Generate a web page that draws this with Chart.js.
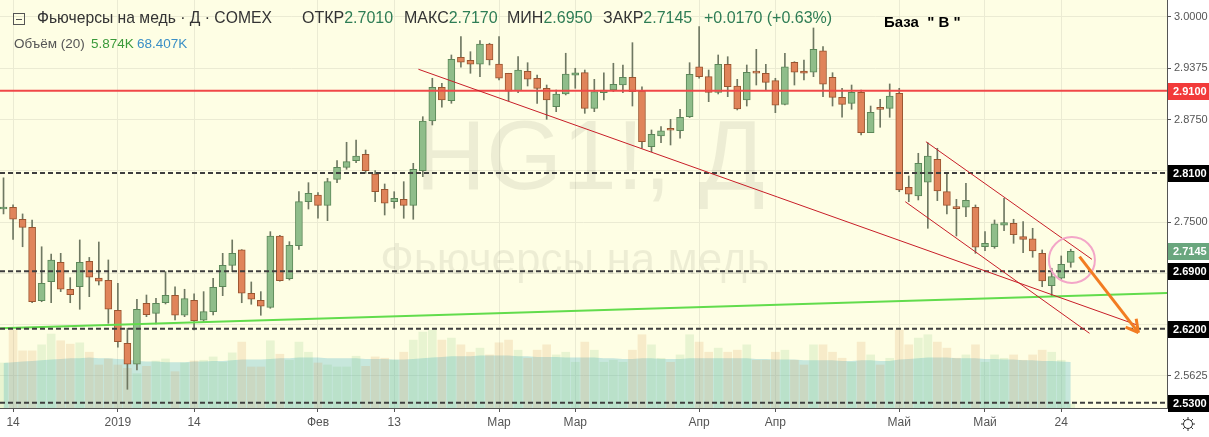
<!DOCTYPE html>
<html>
<head>
<meta charset="utf-8">
<title>Фьючерсы на медь</title>
<script src="https://cdn.jsdelivr.net/npm/chart.js@4.4.1/dist/chart.umd.min.js"></script>
<style>
    html, body { margin: 0; padding: 0; background: #ffffff; overflow: hidden; }
    #wrap { position: relative; width: 1209px; height: 437px; }
    canvas { display: block; }
    .hdr { position: absolute; white-space: nowrap; font-family: "Liberation Sans", Arial, sans-serif; }
    .ohlc { top: 9px; font-size: 16px; color: #333; }
    .ohlc b { font-weight: normal; color: #2e7d55; }
    .vol { top: 36px; font-size: 13.5px; }
    .box { position: absolute; left: 13px; top: 13px; width: 10px; height: 10px; border: 1px solid #555; }
    .box::after { content: ""; position: absolute; left: 2px; right: 2px; top: 4.5px; height: 1px; background: #555; }
</style>
</head>
<body>
<div id="wrap">
    <canvas id="chart" width="1209" height="437"></canvas>
    <span class="box"></span>
    <div class="hdr" style="left:37px;top:9px;font-size:15.7px;color:#333">Фьючерсы на медь · Д · COMEX</div>
    <div class="hdr ohlc" style="left:302px">ОТКР<b>2.7010</b></div>
    <div class="hdr ohlc" style="left:404px">МАКС<b>2.7170</b></div>
    <div class="hdr ohlc" style="left:507px">МИН<b>2.6950</b></div>
    <div class="hdr ohlc" style="left:603px">ЗАКР<b>2.7145</b></div>
    <div class="hdr ohlc" style="left:704px"><b>+0.0170 (+0.63%)</b></div>
    <div class="hdr vol" style="left:14px;color:#555">Объём (20)</div>
    <div class="hdr vol" style="left:91px;color:#3a9a3a">5.874K</div>
    <div class="hdr vol" style="left:137px;color:#3a8fc6">68.407K</div>
    <div class="hdr" style="left:884px;top:13px;font-size:15px;font-weight:bold;color:#000">База&nbsp; " В "</div>
</div>
<script>
// Candles, one per trading day (13 Dec 2018 .. 27 May 2019), index = bar number
const opens = [2.766, 2.768, 2.7535, 2.7437, 2.6543, 2.6774, 2.7011, 2.668, 2.6713, 2.7023,
    2.6819, 2.679, 2.6426, 2.6024, 2.5768, 2.6511, 2.6389, 2.6518, 2.6609, 2.6365,
    2.6548, 2.6304, 2.6409, 2.6713, 2.6974, 2.7161, 2.6633, 2.6548, 2.6462, 2.7331,
    2.6811, 2.7213, 2.7749, 2.7831, 2.7705, 2.8022, 2.8168, 2.8249, 2.8327, 2.8087,
    2.79, 2.7749, 2.7779, 2.7705, 2.8127, 2.8733, 2.9143, 2.898, 2.9509, 2.9472,
    2.9424, 2.9671, 2.9427, 2.9314, 2.9102, 2.9338, 2.9253, 2.9131, 2.8907, 2.9062,
    2.929, 2.9322, 2.8887, 2.9078, 2.911, 2.9171, 2.9265, 2.9098, 2.842, 2.855,
    2.8625, 2.8614, 2.8785, 2.9394, 2.9273, 2.9082, 2.9424, 2.9159, 2.8989, 2.9329,
    2.9314, 2.9224, 2.8936, 2.9448, 2.9342, 2.9326, 2.9589, 2.9265, 2.9021, 2.8948,
    2.9082, 2.859, 2.8887, 2.8887, 2.907, 2.7925, 2.7819, 2.7986, 2.8266, 2.7871,
    2.7688, 2.7681, 2.7681, 2.7201, 2.7201, 2.7462, 2.7486, 2.7323, 2.7298, 2.7121,
    2.6726, 2.6816, 2.701];
const highs = [2.804, 2.771, 2.76, 2.7526, 2.72, 2.7112, 2.712, 2.6823, 2.7283, 2.707,
    2.7258, 2.7039, 2.6755, 2.6207, 2.656, 2.6612, 2.6572, 2.6896, 2.6713, 2.6682,
    2.6625, 2.6653, 2.6816, 2.712, 2.7283, 2.7165, 2.6771, 2.6653, 2.7384, 2.734,
    2.7262, 2.7871, 2.7981, 2.786, 2.8034, 2.8249, 2.8473, 2.8501, 2.8379, 2.8127,
    2.7965, 2.7871, 2.7993, 2.8217, 2.8785, 2.9253, 2.9192, 2.9537, 2.976, 2.9577,
    2.9711, 2.968, 2.976, 2.9314, 2.9516, 2.9443, 2.9293, 2.9171, 2.911, 2.9558,
    2.9375, 2.9354, 2.924, 2.932, 2.9436, 2.9415, 2.9687, 2.915, 2.8623, 2.8663,
    2.8753, 2.8875, 2.9443, 2.9882, 2.9354, 2.9537, 2.9516, 2.924, 2.9415, 2.9606,
    2.9424, 2.9253, 2.9558, 2.9455, 2.9476, 2.9866, 2.9638, 2.9321, 2.9131, 2.9171,
    2.911, 2.8915, 2.8997, 2.9184, 2.9131, 2.8062, 2.8339, 2.8468, 2.84, 2.8087,
    2.7778, 2.7973, 2.7709, 2.7384, 2.7526, 2.7791, 2.7535, 2.7506, 2.7425, 2.7161,
    2.6938, 2.7088, 2.717];
const lows = [2.76, 2.729, 2.72, 2.652, 2.653, 2.6518, 2.6653, 2.6518, 2.6438, 2.6592,
    2.6734, 2.6267, 2.5975, 2.5463, 2.5698, 2.6348, 2.6259, 2.6503, 2.6308, 2.6348,
    2.6186, 2.6287, 2.6369, 2.6604, 2.6896, 2.6518, 2.6499, 2.6365, 2.645, 2.678,
    2.6795, 2.7169, 2.766, 2.7547, 2.7518, 2.7981, 2.8144, 2.8224, 2.8095, 2.7749,
    2.7587, 2.7669, 2.7547, 2.7535, 2.8054, 2.8684, 2.89, 2.8948, 2.9387, 2.9314,
    2.9273, 2.9415, 2.9232, 2.898, 2.9078, 2.9159, 2.8948, 2.8753, 2.8846, 2.905,
    2.9131, 2.8826, 2.8846, 2.899, 2.909, 2.9078, 2.8915, 2.84, 2.8359, 2.8468,
    2.844, 2.8522, 2.8775, 2.9253, 2.8968, 2.9062, 2.9029, 2.8867, 2.8915, 2.9171,
    2.911, 2.8834, 2.8928, 2.9171, 2.9232, 2.9273, 2.9029, 2.8915, 2.8778, 2.8875,
    2.8562, 2.859, 2.8656, 2.8778, 2.7871, 2.7749, 2.777, 2.7425, 2.7762, 2.7599,
    2.7331, 2.7566, 2.712, 2.7152, 2.7181, 2.7396, 2.7242, 2.7128, 2.7072, 2.6713,
    2.6592, 2.6795, 2.695];
const closes = [2.768, 2.7535, 2.7437, 2.6531, 2.6755, 2.7039, 2.6682, 2.6616, 2.7011, 2.6828,
    2.678, 2.6438, 2.6043, 2.5768, 2.6438, 2.6372, 2.6511, 2.6609, 2.6365, 2.6567,
    2.6299, 2.6409, 2.6706, 2.6974, 2.712, 2.6633, 2.656, 2.6475, 2.7331, 2.6787,
    2.7218, 2.7749, 2.7852, 2.7705, 2.7993, 2.8168, 2.8237, 2.8306, 2.8127, 2.7871,
    2.773, 2.7791, 2.7705, 2.8144, 2.8733, 2.9143, 2.8989, 2.9485, 2.9448, 2.9424,
    2.9671, 2.9476, 2.9253, 2.9095, 2.9354, 2.9241, 2.9131, 2.8989, 2.9062, 2.9305,
    2.932, 2.8887, 2.909, 2.911, 2.918, 2.9265, 2.909, 2.848, 2.857, 2.8614,
    2.862, 2.8778, 2.9302, 2.9273, 2.9082, 2.9424, 2.9151, 2.8879, 2.9326, 2.9316,
    2.9204, 2.8924, 2.9394, 2.9326, 2.9314, 2.9606, 2.918, 2.9021, 2.8936, 2.9082,
    2.859, 2.8839, 2.8875, 2.9037, 2.7892, 2.784, 2.8217, 2.8306, 2.788, 2.7705,
    2.7664, 2.7766, 2.7194, 2.7242, 2.7478, 2.7494, 2.7347, 2.729, 2.7149, 2.6783,
    2.6835, 2.6986, 2.7145];

// Volume (thousands) and its 20-day average
const volumes = [67, 116, 85, 85, 94, 110, 100, 95, 97, 83,
    64, 73, 64, 59, 51, 62, 70, 73, 54, 67,
    70, 71, 76, 68, 82, 98, 61, 61, 100, 80,
    71, 98, 83, 67, 64, 61, 61, 77, 62, 76,
    74, 71, 83, 101, 113, 116, 101, 104, 94, 83,
    89, 79, 97, 101, 86, 74, 86, 94, 79, 83,
    68, 98, 86, 68, 71, 68, 86, 109, 94, 74,
    68, 79, 109, 98, 83, 89, 83, 86, 94, 71,
    71, 83, 86, 71, 64, 94, 94, 83, 74, 68,
    98, 79, 64, 74, 116, 94, 104, 109, 98, 89,
    74, 79, 94, 68, 79, 74, 79, 71, 79, 86,
    83, 71, 5.874];
const volumeMA = [67, 68, 69, 70, 71, 72, 73, 74, 74, 75,
    74, 74, 73, 72, 70, 69, 69, 68, 68, 68,
    69, 69, 70, 70, 71, 72, 72, 72, 73, 74,
    74, 75, 75, 75, 74, 74, 74, 74, 73, 73,
    73, 72, 72, 73, 74, 75, 76, 77, 77, 77,
    78, 78, 78, 78, 77, 77, 76, 76, 76, 75,
    75, 75, 75, 74, 74, 73, 73, 74, 74, 73,
    73, 73, 74, 74, 74, 74, 74, 74, 74, 73,
    73, 72, 72, 72, 71, 71, 71, 71, 70, 70,
    71, 71, 70, 70, 72, 73, 74, 75, 75, 75,
    74, 74, 74, 73, 73, 72, 72, 71, 71, 70,
    70, 69, 68.407];

// Axis ticks
const tickIdx = [1, 12, 20, 33, 41, 52, 60, 73, 81, 94, 103, 111];
const tickLabels = ["14", "2019", "14", "Фев", "13", "Мар", "Мар", "Апр", "Апр", "Май", "Май", "24"];
const priceTicks = [2.5625, 2.625, 2.6875, 2.75, 2.8125, 2.875, 2.9375, 3.0];
const hiddenPriceTicks = [2.625, 2.6875, 2.8125];

// Drawings: horizontal levels and trend lines, in (bar index, price)
const levels = [2.91, 2.81, 2.69, 2.62, 2.53];
const levelColors = ["#f23a3a", "#000000", "#000000", "#000000", "#000000"];
const supportLine = [[-0.37, 2.6207], [122.1, 2.6637]];
const trendLines = [
    [[43.54, 2.9363], [118.95, 2.6247]],
    [[96.8, 2.848], [114.22, 2.7047]],
    [[94.63, 2.7749], [113.97, 2.6145]]
];
const arrowLine = [[112.92, 2.7079], [119.1, 2.6153]];
const circleMark = [112.12, 2.7039];
const lastPrice = 2.7145;

const X_MIN = -0.37;
const X_MAX = 122.1;

document.addEventListener("DOMContentLoaded", () => {
    const up = closes.map((c, i) => c >= opens[i]);
    const pts = pairs => pairs.map(p => ({ x: p[0], y: p[1] }));

    const bodyData = opens.map((o, i) => ({ x: i, y: [o, closes[i]] }));
    const wickData = opens.map((o, i) => ({ x: i, y: [lows[i], highs[i]] }));
    const volData = volumes.map((v, i) => ({ x: i, y: v }));
    const maData = volumeMA.map((v, i) => ({ x: i, y: v }));

    const datasets = [
        {
            type: "line", yAxisID: "yv", data: maData, order: 10,
            borderWidth: 0, pointRadius: 0, fill: "origin",
            backgroundColor: "rgba(88, 184, 204, 0.33)"
        },
        {
            type: "bar", yAxisID: "yv", data: volData, order: 9, grouped: false,
            barThickness: 8,
            backgroundColor: up.map(u => u ? "rgba(120, 190, 110, 0.16)" : "rgba(215, 150, 80, 0.18)")
        },
        {
            type: "bar", data: wickData, order: 5, grouped: false,
            barThickness: 1, backgroundColor: "#6f7862"
        },
        {
            type: "bar", data: bodyData, order: 4, grouped: false,
            barThickness: 7, minBarLength: 2, borderWidth: 1, borderSkipped: false,
            backgroundColor: up.map(u => u ? "#8fbd8a" : "#e0845a"),
            borderColor: up.map(u => u ? "#5b8758" : "#9a5530")
        }
    ];

    // Horizontal levels
    levels.forEach((lv, k) => {
        datasets.push({
            type: "line", order: 3, pointRadius: 0, borderWidth: 2,
            borderColor: k === 0 ? "#f04848" : "#3e3e3e",
            borderDash: k === 0 ? [] : [5, 3],
            data: [{ x: X_MIN, y: lv }, { x: X_MAX, y: lv }]
        });
    });

    // Green support line
    datasets.push({
        type: "line", order: 3, pointRadius: 0, borderWidth: 2,
        borderColor: "#62dc4c", data: pts(supportLine)
    });

    // Red trend lines
    trendLines.forEach(tl => {
        datasets.push({
            type: "line", order: 2, pointRadius: 0, borderWidth: 1,
            borderColor: "#c81e28", data: pts(tl)
        });
    });

    // Orange arrow
    datasets.push({
        type: "line", order: 1, pointRadius: 0, borderWidth: 3,
        borderColor: "#f27c22", data: pts(arrowLine), isArrow: true
    });

    // Pink circle
    datasets.push({
        type: "line", order: 1, showLine: false, data: pts([circleMark]),
        pointRadius: 23, pointBorderWidth: 2, pointBorderColor: "#f3a6c8",
        pointBackgroundColor: "rgba(0,0,0,0)"
    });

    // Background, watermark, price badges, arrow head
    const decor = {
        id: "decor",
        beforeDraw(chart) {
            const { ctx, chartArea: a } = chart;
            ctx.save();
            ctx.fillStyle = "#ffffff";
            ctx.fillRect(0, 0, chart.width, chart.height);
            ctx.fillStyle = "#fefee4";
            ctx.fillRect(a.left, a.top, a.right - a.left, a.bottom - a.top);
            ctx.restore();
        },
        beforeDatasetsDraw(chart) {
            const { ctx } = chart;
            ctx.save();
            ctx.fillStyle = "rgba(0, 0, 0, 0.065)";
            ctx.textAlign = "center";
            ctx.textBaseline = "middle";
            ctx.font = "98px 'Liberation Sans', Arial, sans-serif";
            ctx.fillText("HG1!, Д", 590, 162);
            ctx.font = "44px 'Liberation Sans', Arial, sans-serif";
            ctx.fillText("Фьючерсы на медь", 575, 262);
            ctx.restore();
        },
        afterDatasetsDraw(chart) {
            const { ctx } = chart;
            chart.data.datasets.forEach((ds, di) => {
                if (!ds.isArrow) return;
                const el = chart.getDatasetMeta(di).data;
                const p0 = el[0], p1 = el[1];
                const ang = Math.atan2(p1.y - p0.y, p1.x - p0.x);
                ctx.save();
                ctx.strokeStyle = ds.borderColor;
                ctx.lineWidth = 3;
                ctx.beginPath();
                [-0.5, 0.5].forEach(d => {
                    ctx.moveTo(p1.x, p1.y);
                    ctx.lineTo(p1.x - 14 * Math.cos(ang + d), p1.y - 14 * Math.sin(ang + d));
                });
                ctx.stroke();
                ctx.restore();
            });
        },
        afterDraw(chart) {
            const { ctx, chartArea: a } = chart;
            const y = chart.scales.y;
            ctx.save();
            ctx.font = "bold 11px 'Liberation Sans', Arial, sans-serif";
            ctx.textBaseline = "middle";
            const badge = (val, bg) => {
                const py = Math.round(y.getPixelForValue(val));
                ctx.fillStyle = bg;
                ctx.fillRect(a.right + 1, py - 8, chart.width - a.right - 1, 17);
                ctx.fillStyle = "#ffffff";
                ctx.fillText(val.toFixed(4), a.right + 6, py + 1);
            };
            levels.forEach((lv, k) => badge(lv, levelColors[k]));
            badge(lastPrice, "#6aa67e");

            // settings icon in the corner
            const cx = 1188, cy = 424;
            ctx.strokeStyle = "#333";
            ctx.lineWidth = 1;
            ctx.beginPath();
            ctx.arc(cx, cy, 4.5, 0, Math.PI * 2);
            for (let k = 0; k < 8; k++) {
                const t = k * Math.PI / 4;
                ctx.moveTo(cx + 4.5 * Math.cos(t), cy + 4.5 * Math.sin(t));
                ctx.lineTo(cx + 7 * Math.cos(t), cy + 7 * Math.sin(t));
            }
            ctx.stroke();
            ctx.restore();
        }
    };

    const ctx = document.getElementById("chart").getContext("2d");
    new Chart(ctx, {
        type: "bar",
        data: { datasets },
        plugins: [decor],
        options: {
            responsive: false,
            animation: false,
            events: [],
            layout: { padding: 0, autoPadding: false },
            plugins: { legend: { display: false }, tooltip: { enabled: false } },
            scales: {
                x: {
                    type: "linear", min: X_MIN, max: X_MAX, offset: false,
                    afterBuildTicks: s => { s.ticks = tickIdx.map(v => ({ value: v })); },
                    afterFit: s => { s.height = 29; s.paddingLeft = 0; s.paddingRight = 0; },
                    grid: { offset: false, color: "#ebebd3", tickColor: "#555", tickLength: 4 },
                    border: { display: true, color: "#555" },
                    ticks: {
                        autoSkip: false, maxRotation: 0, padding: 3, color: "#555",
                        font: { family: "'Liberation Sans', Arial, sans-serif", size: 12 },
                        callback: v => tickLabels[tickIdx.indexOf(v)]
                    }
                },
                y: {
                    type: "linear", position: "right", min: 2.5235, max: 3.0207,
                    afterBuildTicks: s => { s.ticks = priceTicks.map(v => ({ value: v })); },
                    afterFit: s => { s.width = 42; s.paddingTop = 0; s.paddingBottom = 0; },
                    grid: { color: "#ebebd3", tickColor: "#555", tickLength: 4 },
                    border: { display: true, color: "#555" },
                    ticks: {
                        padding: 3, color: "#555",
                        font: { family: "'Liberation Sans', Arial, sans-serif", size: 11 },
                        callback: v => hiddenPriceTicks.includes(v) ? "" : v.toFixed(4)
                    }
                },
                yv: { type: "linear", display: false, min: 0, max: 607 }
            }
        }
    });
});
</script>
</body>
</html>
